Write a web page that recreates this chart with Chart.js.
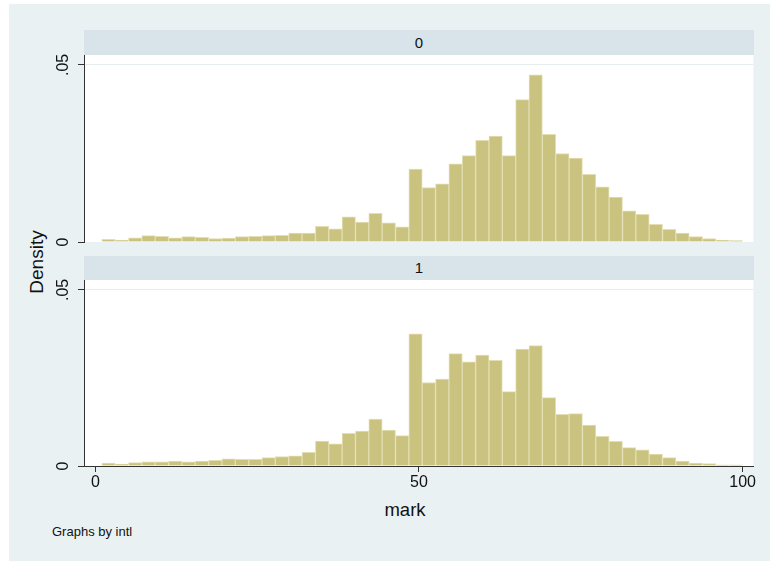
<!DOCTYPE html>
<html>
<head>
<meta charset="utf-8">
<script src="https://cdn.jsdelivr.net/npm/chart.js@4.4.1/dist/chart.umd.min.js"></script>
<style>
  body { margin: 0; background: #fff; font-family: "Liberation Sans", Arial, sans-serif; }
  #wrap { position: relative; width: 770px; height: 562px; overflow: hidden; }
  #bg { position: absolute; left: 9px; top: 4px; width: 761px; height: 557px; background: #eaf1f3; }
  .strip { position: absolute; left: 84px; width: 670px; background: #d9e4ea; color: #111;
           font-size: 15px; text-align: center; }
  .lbl { position: absolute; color: #111; white-space: nowrap; }
  canvas { position: absolute; left: 0; }
</style>
</head>
<body>
<div id="wrap">
  <div id="bg"></div>
  <div class="strip" style="top:30px;height:25px;line-height:25px;">0</div>
  <div class="strip" style="top:256px;height:24px;line-height:24px;">1</div>
  <div class="lbl" style="left:37px;top:262px;font-size:19px;transform:translate(-50%,-50%) rotate(-90deg);">Density</div>
  <div class="lbl" style="left:405px;top:510px;font-size:18.5px;transform:translate(-50%,-50%);">mark</div>
  <div class="lbl" style="left:52px;top:531px;font-size:13px;transform:translateY(-50%);">Graphs by intl</div>
  <canvas id="top" width="770" height="227" style="top:35px;width:770px;height:227px;"></canvas>
  <canvas id="bottom" width="770" height="246" style="top:260px;width:770px;height:246px;"></canvas>
</div>
<script>
// histogram of mark, by intl (density)
var binStart = 1;
var binWidth = 2.0625;
var xTicks = [0, 50, 100];
var yTicks = [0, 0.05];
var yTickLabels = ["0", ".05"];

var densityIntl0 = [0.00075, 0.00057, 0.0012, 0.0018, 0.0016, 0.0012, 0.0015, 0.0013, 0.0010, 0.0011,
  0.0015, 0.0016, 0.0018, 0.0019, 0.0025, 0.0025, 0.0044, 0.0037, 0.0071, 0.0056,
  0.0081, 0.0054, 0.0043, 0.0206, 0.0154, 0.0164, 0.0221, 0.0244, 0.0287, 0.0299,
  0.0244, 0.0402, 0.0472, 0.0304, 0.0250, 0.0237, 0.0191, 0.0156, 0.0127, 0.0088,
  0.0078, 0.0050, 0.0036, 0.0025, 0.0015, 0.0010, 0.00057, 0.0004];

var densityIntl1 = [0.00085, 0.00057, 0.00095, 0.0012, 0.0012, 0.0014, 0.0012, 0.0014, 0.0016, 0.0020,
  0.0019, 0.0019, 0.0024, 0.0027, 0.0029, 0.0039, 0.0071, 0.0063, 0.0093, 0.0099,
  0.0133, 0.0102, 0.0086, 0.0375, 0.0237, 0.0247, 0.0319, 0.0296, 0.0315, 0.0300,
  0.0211, 0.0332, 0.0342, 0.0194, 0.0147, 0.0149, 0.0116, 0.0084, 0.0070, 0.0052,
  0.0046, 0.0034, 0.0024, 0.0014, 0.00085, 0.00066, 0.0003, 0.0003];

var fontFamily = '"Liberation Sans", Arial, sans-serif';
var axisColor = "#333";

var plotBg = {
  id: "plotBg",
  beforeDraw: function(chart) {
    var a = chart.chartArea, ctx = chart.ctx;
    ctx.save();
    ctx.fillStyle = "#fff";
    ctx.fillRect(a.left, a.top, a.right - a.left, a.bottom - a.top);
    ctx.restore();
  }
};

function createchart(canvasID, values, showX) {
  var pts = values.map(function(v, i) {
    return { x: binStart + binWidth * (i + 0.5), y: v };
  });
  var ctx = document.getElementById(canvasID).getContext("2d");
  return new Chart(ctx, {
    type: "bar",
    data: {
      datasets: [{
        data: pts,
        backgroundColor: "#cac27f",
        borderColor: "#e4deb2",
        borderWidth: 1,
        barPercentage: 1,
        categoryPercentage: 1
      }]
    },
    plugins: [plotBg],
    options: {
      responsive: false,
      animation: false,
      layout: { padding: { top: 20, bottom: showX ? 0 : 20, left: 0, right: 16.7 } },
      plugins: { legend: { display: false }, tooltip: { enabled: false } },
      scales: {
        x: {
          type: "linear",
          display: showX,
          offset: false,
          min: -1.75,
          max: 101.65,
          afterBuildTicks: function(scale) {
            scale.ticks = xTicks.map(function(v) { return { value: v }; });
          },
          afterFit: function(scale) { scale.height = showX ? 40 : 0; },
          grid: { offset: false, drawOnChartArea: false, tickLength: 6, tickColor: axisColor },
          border: { display: true, color: axisColor, width: 1 },
          ticks: { color: "#111", padding: 1, maxRotation: 0,
                   font: { family: fontFamily, size: 16 } }
        },
        y: {
          min: 0,
          max: 0.0528,
          afterBuildTicks: function(scale) {
            scale.ticks = yTicks.map(function(v) { return { value: v }; });
          },
          afterFit: function(scale) { scale.width = 84; },
          grid: {
            color: function(c) { return c.tick && c.tick.value === 0 ? "rgba(0,0,0,0)" : "#e5edf0"; },
            tickColor: axisColor,
            tickLength: 6
          },
          border: { display: true, color: axisColor, width: 1 },
          ticks: {
            color: "#111",
            minRotation: 90,
            maxRotation: 90,
            crossAlign: "center",
            padding: 3,
            font: { family: fontFamily, size: 16 },
            callback: function(v) { return yTickLabels[yTicks.indexOf(v)]; }
          }
        }
      }
    }
  });
}

createchart("top", densityIntl0, false);
createchart("bottom", densityIntl1, true);
</script>
</body>
</html>
